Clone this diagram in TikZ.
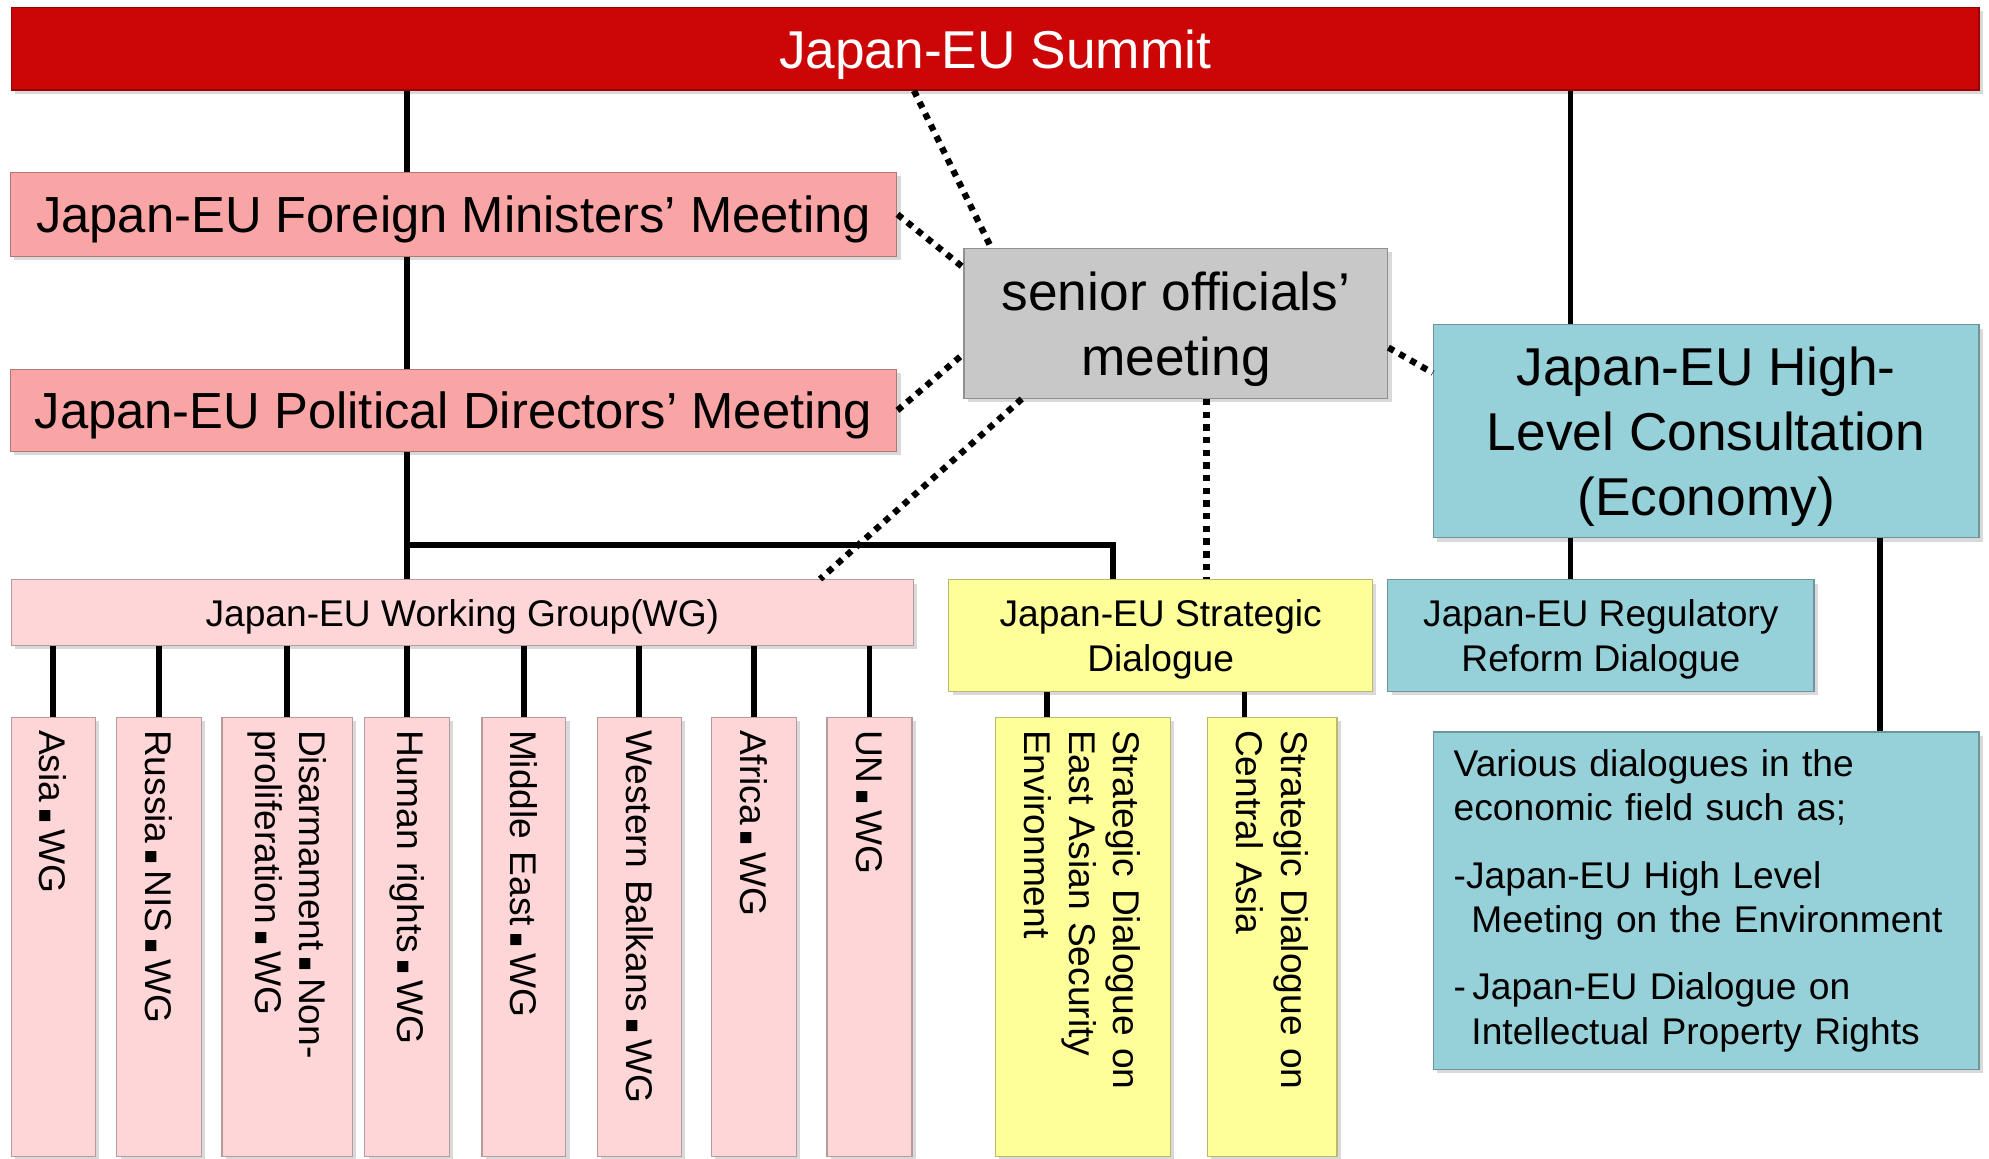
\documentclass[tikz,border=0pt]{standalone}
\usepackage{fontspec}
\setmainfont{Liberation Sans}
\newfontfamily\dvfont{DejaVu Sans}
\usetikzlibrary{shadows}
\definecolor{summitred}{RGB}{204,6,6}
\definecolor{minpink}{RGB}{250,165,165}
\definecolor{wgpink}{RGB}{255,214,216}
\definecolor{seniorgray}{RGB}{200,200,200}
\definecolor{econteal}{RGB}{150,208,216}
\definecolor{sdyellow}{RGB}{255,255,153}
\newcommand{\wgdot}{\hspace{0.16em}{\dvfont\scalebox{0.6}{▪}}\hspace{0.16em}}

\begin{document}
\begin{tikzpicture}[x=1pt, y=-1pt,
    box/.style={draw=#1!72!black, fill=#1, line width=1pt,
        drop shadow={shadow xshift=3pt, shadow yshift=-3pt, opacity=0.3}},
    bigtext/.style={font=\fontsize{42}{51}\selectfont},
    midtext/.style={font=\fontsize{40}{48}\selectfont},
    smalltext/.style={font=\fontsize{29.3}{35}\selectfont},
    vlabel/.style={box=#1, rotate=-90, anchor=west, minimum width=346pt,
        text width=326pt, align=left, inner xsep=10pt, inner ysep=0pt, smalltext}]
    \useasboundingbox (0,0) rectangle (1568,913);
    \begin{scope}
        \tikzstyle{every node}=[align=center, inner sep=0pt, text depth=0pt]
        \node[box=summitred, bigtext, text=white, minimum width=1551pt, minimum height=65pt] (summit) at (784.5,38.5) {Japan-EU Summit};
        \node[box=minpink, midtext, minimum width=699pt, minimum height=66pt] (fm) at (357.5,169) {Japan-EU Foreign Ministers’ Meeting};
        \node[box=minpink, midtext, minimum width=699pt, minimum height=65pt] (pd) at (357.5,323.5) {Japan-EU Political Directors' Meeting};
        \node[box=seniorgray, bigtext, minimum width=334pt, minimum height=118pt] (senior) at (927,255) {senior officials’\\meeting};
        \node[box=econteal, bigtext, minimum width=430pt, minimum height=168pt] (hl) at (1345,340) {Japan-EU High-\\Level Consultation\\(Economy)};
        \node[box=wgpink, smalltext, minimum width=711pt, minimum height=52pt] (wg) at (364.5,483) {Japan-EU Working Group(WG)};
        \node[box=sdyellow, smalltext, minimum width=334pt, minimum height=88pt] (sd) at (915,501) {Japan-EU Strategic\\Dialogue};
        \node[box=econteal, smalltext, minimum width=336pt, minimum height=88pt] (reg) at (1262,501) {Japan-EU Regulatory\\Reform Dialogue};
    \end{scope}
    \begin{scope}
        \tikzstyle{every node}=[align=left, inner xsep=16pt, inner ysep=0pt]
        \node[box=econteal, smalltext, minimum width=430pt, minimum height=266pt, text width=398pt] (var) at (1345,710)
            {Various dialogues in the\\economic field such as;\\[18pt]
             -Japan-EU High Level\\\hspace*{14pt}Meeting on the Environment\\[18pt]
             -\,Japan-EU Dialogue on\\\hspace*{14pt}Intellectual Property Rights};
    \end{scope}
    \begin{scope}
        \node[vlabel=wgpink, minimum height=66pt] (asia) at (42,565) {Asia\wgdot WG};
        \node[vlabel=wgpink, minimum height=67pt] (russia) at (125.5,565) {Russia\wgdot NIS\wgdot WG};
        \node[vlabel=wgpink, minimum height=103pt] (disarm) at (226.5,565) {Disarmament\wgdot Non-\\proliferation\wgdot WG};
        \node[vlabel=wgpink, minimum height=67pt] (hr) at (321,565) {Human rights\wgdot WG};
        \node[vlabel=wgpink, minimum height=66pt] (mideast) at (413,565) {Middle East\wgdot WG};
        \node[vlabel=wgpink, minimum height=66pt] (balkans) at (504,565) {Western Balkans\wgdot WG};
        \node[vlabel=wgpink, minimum height=67pt] (africa) at (594.5,565) {Africa\wgdot WG};
        \node[vlabel=wgpink, minimum height=67pt] (un) at (685.5,565) {UN\wgdot WG};
        \node[vlabel=sdyellow, minimum height=138pt] (sdea) at (853.5,565) {Strategic Dialogue on\\East Asian Security\\Environment};
        \node[vlabel=sdyellow, minimum height=102pt] (sdca) at (1003,565) {Strategic Dialogue on\\Central Asia};
    \end{scope}
    \begin{scope}
        \tikzstyle{every edge}=[draw, line width=4.5pt]
        \path
        (summit.south -| hr.west) edge (fm.north -| hr.west)
        (fm.south -| hr.west) edge (pd.north -| hr.west)
        (pd.south -| hr.west) edge (wg.north -| hr.west)
        (wg.south -| asia.west) edge (asia.west)
        (wg.south -| russia.west) edge (russia.west)
        (wg.south -| disarm.west) edge (disarm.west)
        (wg.south -| hr.west) edge (hr.west)
        (wg.south -| mideast.west) edge (mideast.west)
        (wg.south -| balkans.west) edge (balkans.west)
        (wg.south -| africa.west) edge (africa.west)
        (wg.south -| un.west) edge (un.west)
        ([xshift=-28pt]sdea.west |- sd.south) edge ([xshift=-28pt]sdea.west)
        ([xshift=-22pt]sdca.west |- sd.south) edge ([xshift=-22pt]sdca.west)
        ([xshift=-107pt]hl.north |- summit.south) edge ([xshift=-107pt]hl.north)
        ([xshift=-107pt]hl.south) edge ([xshift=-107pt]hl.south |- reg.north)
        ([xshift=137pt]hl.south) edge ([xshift=137pt]hl.south |- var.north);
        \draw[line width=4.5pt] ([yshift=27pt]wg.north -| hr.west) -| ([xshift=-37.5pt]sd.north);
    \end{scope}
    \begin{scope}
        \tikzstyle{every edge}=[draw, line width=5pt, dash pattern=on 5pt off 5pt]
        \path
        ([xshift=-64pt]summit.south) edge ([xshift=22pt]senior.north west)
        (fm.east) edge ([yshift=44pt]senior.west)
        (pd.east) edge ([yshift=-24pt]senior.west)
        ([xshift=46pt]senior.south west) edge ([xshift=-74pt]wg.north east)
        ([yshift=-19pt]senior.east) edge ([yshift=46pt]hl.west)
        ([xshift=24pt]senior.south) edge ([xshift=24pt]senior.south |- sd.north);
    \end{scope}
\end{tikzpicture}
\end{document}
